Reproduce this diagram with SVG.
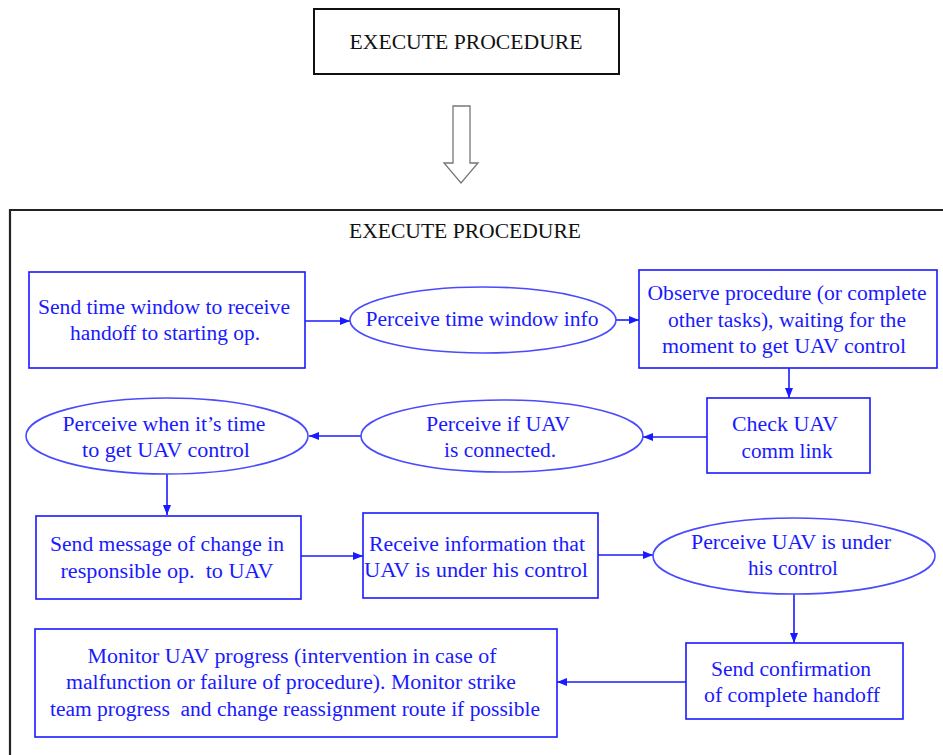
<svg xmlns="http://www.w3.org/2000/svg" width="943" height="755" viewBox="0 0 943 755">
  <style>
    .t { font-family: "Liberation Serif", "Times New Roman", serif; font-size: 20px; fill: #1a1aff; text-anchor: middle; }
    .h { font-family: "Liberation Serif", "Times New Roman", serif; font-size: 20px; fill: #111; text-anchor: middle; }
    .box { fill: #fff; stroke: #1a1aff; stroke-width: 1.6; }
    .ell { fill: #fff; stroke: #4a4aff; stroke-width: 1.6; }
    .edge { fill: none; stroke: #1a1aff; stroke-width: 1.6; marker-end: url(#ah); }
  </style>
  <defs>
    <marker id="ah" markerWidth="10" markerHeight="8" refX="10" refY="4" orient="auto" markerUnits="userSpaceOnUse">
      <path d="M0,0 L10,4 L0,8 Z" fill="#1a1aff"/>
    </marker>
  </defs>
  <rect width="943" height="755" fill="#fff"/>

  <!-- header block and hollow arrow -->
  <g id="header">
    <rect x="314" y="9" width="305" height="65" fill="#fff" stroke="#111" stroke-width="2"/>
    <text class="h" x="466" y="49" textLength="233" lengthAdjust="spacingAndGlyphs">EXECUTE PROCEDURE</text>
  </g>
  <g id="hollow-arrow">
    <path d="M453,106 H470 V163 H478 L461,183 L444,163 H453 Z" fill="#fff" stroke="#777" stroke-width="1.3"/>
  </g>

  <!-- expanded procedure frame -->
  <g id="frame">
    <path d="M10,755 V210 H943" fill="none" stroke="#222" stroke-width="2.2"/>
    <text class="h" x="465" y="238" textLength="232" lengthAdjust="spacingAndGlyphs">EXECUTE PROCEDURE</text>
  </g>

  <g id="connectors">
    <path class="edge" d="M305,321 H350"/>
    <path class="edge" d="M616,320 H639"/>
    <path class="edge" d="M789,368 V398"/>
    <path class="edge" d="M707,437 H643"/>
    <path class="edge" d="M361,436 H309"/>
    <path class="edge" d="M167,474 V515"/>
    <path class="edge" d="M301,556 H363"/>
    <path class="edge" d="M598,555 H653"/>
    <path class="edge" d="M794,594 V643"/>
    <path class="edge" d="M686,682 H557"/>
  </g>

  <g id="n1">
    <rect class="box" x="29" y="272" width="276" height="96"/>
    <text class="t" x="164" y="314" textLength="252" lengthAdjust="spacingAndGlyphs">Send time window to receive</text>
    <text class="t" x="165" y="340" textLength="190" lengthAdjust="spacingAndGlyphs">handoff to starting op.</text>
  </g>
  <g id="n2">
    <ellipse class="ell" cx="483" cy="320" rx="133" ry="33"/>
    <text class="t" x="482" y="326" textLength="233" lengthAdjust="spacingAndGlyphs">Perceive time window info</text>
  </g>
  <g id="n3">
    <rect class="box" x="639" y="270" width="298" height="98"/>
    <text class="t" x="787" y="300" textLength="279" lengthAdjust="spacingAndGlyphs">Observe procedure (or complete</text>
    <text class="t" x="787" y="327" textLength="238" lengthAdjust="spacingAndGlyphs">other tasks), waiting for the</text>
    <text class="t" x="784" y="353" textLength="244" lengthAdjust="spacingAndGlyphs">moment to get UAV control</text>
  </g>
  <g id="n4">
    <rect class="box" x="707" y="398" width="163" height="75"/>
    <text class="t" x="785" y="431" textLength="106" lengthAdjust="spacingAndGlyphs">Check UAV</text>
    <text class="t" x="787" y="458" textLength="91" lengthAdjust="spacingAndGlyphs">comm link</text>
  </g>
  <g id="n5">
    <ellipse class="ell" cx="502" cy="436" rx="141" ry="36"/>
    <text class="t" x="498" y="431" textLength="144" lengthAdjust="spacingAndGlyphs">Perceive if UAV</text>
    <text class="t" x="500" y="457" textLength="112" lengthAdjust="spacingAndGlyphs">is connected.</text>
  </g>
  <g id="n6">
    <ellipse class="ell" cx="167" cy="436" rx="141" ry="38"/>
    <text class="t" x="164" y="431" textLength="203" lengthAdjust="spacingAndGlyphs">Perceive when it’s time</text>
    <text class="t" x="166" y="457" textLength="168" lengthAdjust="spacingAndGlyphs">to get UAV control</text>
  </g>
  <g id="n7">
    <rect class="box" x="36" y="516" width="265" height="83"/>
    <text class="t" x="167" y="551" textLength="234" lengthAdjust="spacingAndGlyphs">Send message of change in</text>
    <text class="t" x="167" y="578" textLength="213" lengthAdjust="spacingAndGlyphs" xml:space="preserve">responsible op.  to UAV</text>
  </g>
  <g id="n8">
    <rect class="box" x="363" y="513" width="235" height="85"/>
    <text class="t" x="477" y="551" textLength="216" lengthAdjust="spacingAndGlyphs">Receive information that</text>
    <text class="t" x="476" y="577" textLength="224" lengthAdjust="spacingAndGlyphs">UAV is under his control</text>
  </g>
  <g id="n9">
    <ellipse class="ell" cx="794" cy="556" rx="141" ry="38"/>
    <text class="t" x="791" y="549" textLength="200" lengthAdjust="spacingAndGlyphs">Perceive UAV is under</text>
    <text class="t" x="793" y="575" textLength="90" lengthAdjust="spacingAndGlyphs">his control</text>
  </g>
  <g id="n10">
    <rect class="box" x="686" y="643" width="217" height="76"/>
    <text class="t" x="791" y="676" textLength="160" lengthAdjust="spacingAndGlyphs">Send confirmation</text>
    <text class="t" x="792" y="702" textLength="176" lengthAdjust="spacingAndGlyphs">of complete handoff</text>
  </g>
  <g id="n11">
    <rect class="box" x="35" y="629" width="522" height="108"/>
    <text class="t" x="292" y="663" textLength="409" lengthAdjust="spacingAndGlyphs">Monitor UAV progress (intervention in case of</text>
    <text class="t" x="291" y="689" textLength="450" lengthAdjust="spacingAndGlyphs">malfunction or failure of procedure). Monitor strike</text>
    <text class="t" x="295" y="716" textLength="490" lengthAdjust="spacingAndGlyphs" xml:space="preserve">team progress  and change reassignment route if possible</text>
  </g>
</svg>
